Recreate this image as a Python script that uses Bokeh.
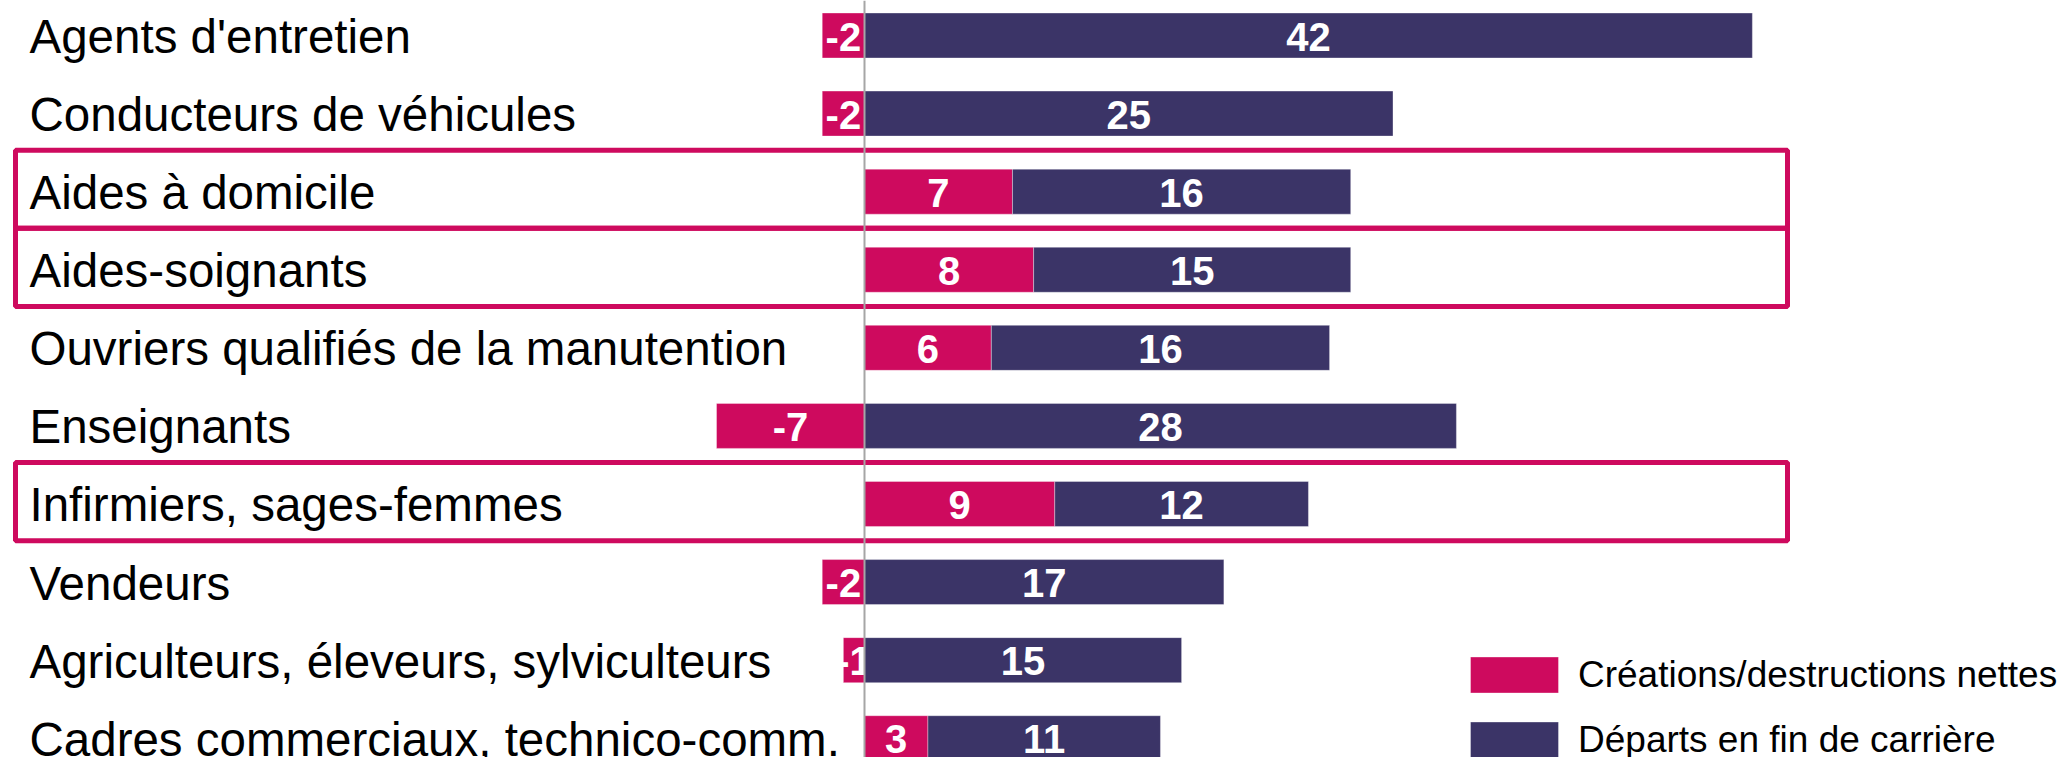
from bokeh.plotting import figure
from bokeh.models import Range1d, Span, Legend, LegendItem, ColumnDataSource
from bokeh.core.properties import value
from bokeh.embed import file_html
from bokeh.resources import INLINE

# ---------------- data ----------------
categories = [
    "Agents d'entretien",
    "Conducteurs de véhicules",
    "Aides à domicile",
    "Aides-soignants",
    "Ouvriers qualifiés de la manutention",
    "Enseignants",
    "Infirmiers, sages-femmes",
    "Vendeurs",
    "Agriculteurs, éleveurs, sylviculteurs",
    "Cadres commerciaux, technico-comm.",
]
creations = [-2, -2, 7, 8, 6, -7, 9, -2, -1, 3]
departs = [42, 25, 16, 15, 16, 28, 12, 17, 15, 11]
highlighted = ["Aides à domicile", "Aides-soignants", "Infirmiers, sages-femmes"]
series_names = ["Créations/destructions nettes", "Départs en fin de carrière"]

# ---------------- style / layout ----------------
PINK = "#CE0A5E"
PURPLE = "#3B3467"
FONT = "Liberation Sans"
W, H = 2061, 757
PX_UNIT = 21.14      # pixels per data unit
ZERO_PX = 864        # frame x of the zero line
ROW_PX = 78.08       # pixels between rows
ROW0_PX = 35         # frame y of first row centre
BAR_H = 45 / ROW_PX
LABEL_X = (29 - ZERO_PX) / PX_UNIT
LABEL_DY = 1 / ROW_PX
VALUE_DY = 1 / ROW_PX
HL_LEFT = (15 - ZERO_PX) / PX_UNIT
HL_RIGHT = (1787 - ZERO_PX) / PX_UNIT

idx = list(range(len(categories)))
c_left = [min(0, c) for c in creations]
c_right = [max(0, c) for c in creations]
d_left = [max(0, c) for c in creations]
d_right = [max(0, c) + d for c, d in zip(creations, departs)]

src = ColumnDataSource(dict(
    y=idx, cat=categories,
    y_lab=[i + LABEL_DY for i in idx],
    y_val=[i + VALUE_DY for i in idx],
    c_left=c_left, c_right=c_right, c_mid=[(a + b) / 2 for a, b in zip(c_left, c_right)],
    c_txt=[str(c) for c in creations],
    d_left=d_left, d_right=d_right, d_mid=[(a + b) / 2 for a, b in zip(d_left, d_right)],
    d_txt=[str(d) for d in departs],
))

p = figure(
    width=W, height=H,
    x_range=Range1d(-ZERO_PX / PX_UNIT, (W - ZERO_PX) / PX_UNIT),
    y_range=Range1d((H - ROW0_PX) / ROW_PX, -ROW0_PX / ROW_PX),
    output_backend="svg", toolbar_location=None,
    x_axis_location=None, y_axis_location=None,
    min_border=0, outline_line_color=None,
)
p.xgrid.visible = False
p.ygrid.visible = False

# category labels
p.text(x=LABEL_X, y="y_lab", text="cat", source=src, text_font=value(FONT),
       text_font_size="47.5px", text_color="black", text_baseline="alphabetic",
       text_align="left")

# pink bars + labels
r_c = p.hbar(y="y", left="c_left", right="c_right", height=BAR_H, source=src,
             fill_color=PINK, line_color="white", line_alpha=0.35, line_width=1)
p.text(x="c_mid", y="y_val", text="c_txt", source=src, text_font=value(FONT),
       text_font_size="40px", text_font_style="bold", text_color="white",
       text_align="center", text_baseline="alphabetic")

# purple bars + labels
r_d = p.hbar(y="y", left="d_left", right="d_right", height=BAR_H, source=src,
             fill_color=PURPLE, line_color="white", line_alpha=0.35, line_width=1)
p.text(x="d_mid", y="y_val", text="d_txt", source=src, text_font=value(FONT),
       text_font_size="40px", text_font_style="bold", text_color="white",
       text_align="center", text_baseline="alphabetic")

# highlight boxes
hl_y = [categories.index(h) - 0.03 for h in highlighted]
p.rect(x=(HL_LEFT + HL_RIGHT) / 2, y=hl_y, width=HL_RIGHT - HL_LEFT, height=1.0,
       fill_color=None, line_color=PINK, line_width=5)

# zero line
p.add_layout(Span(location=0, dimension="height", line_color="#A6A6A6", line_width=2))

# legend
legend = Legend(
    items=[LegendItem(label=series_names[0], renderers=[r_c]),
           LegendItem(label=series_names[1], renderers=[r_d])],
    location=(1459, -5), orientation="vertical",
    glyph_width=110, glyph_height=45, label_height=45, spacing=20,
    label_standoff=9, padding=0, margin=0,
    border_line_color=None, background_fill_alpha=0,
    label_text_font=FONT, label_text_font_size="37px", label_text_color="black",
)
p.add_layout(legend)

open("out.html", "w").write(file_html(p, INLINE))
